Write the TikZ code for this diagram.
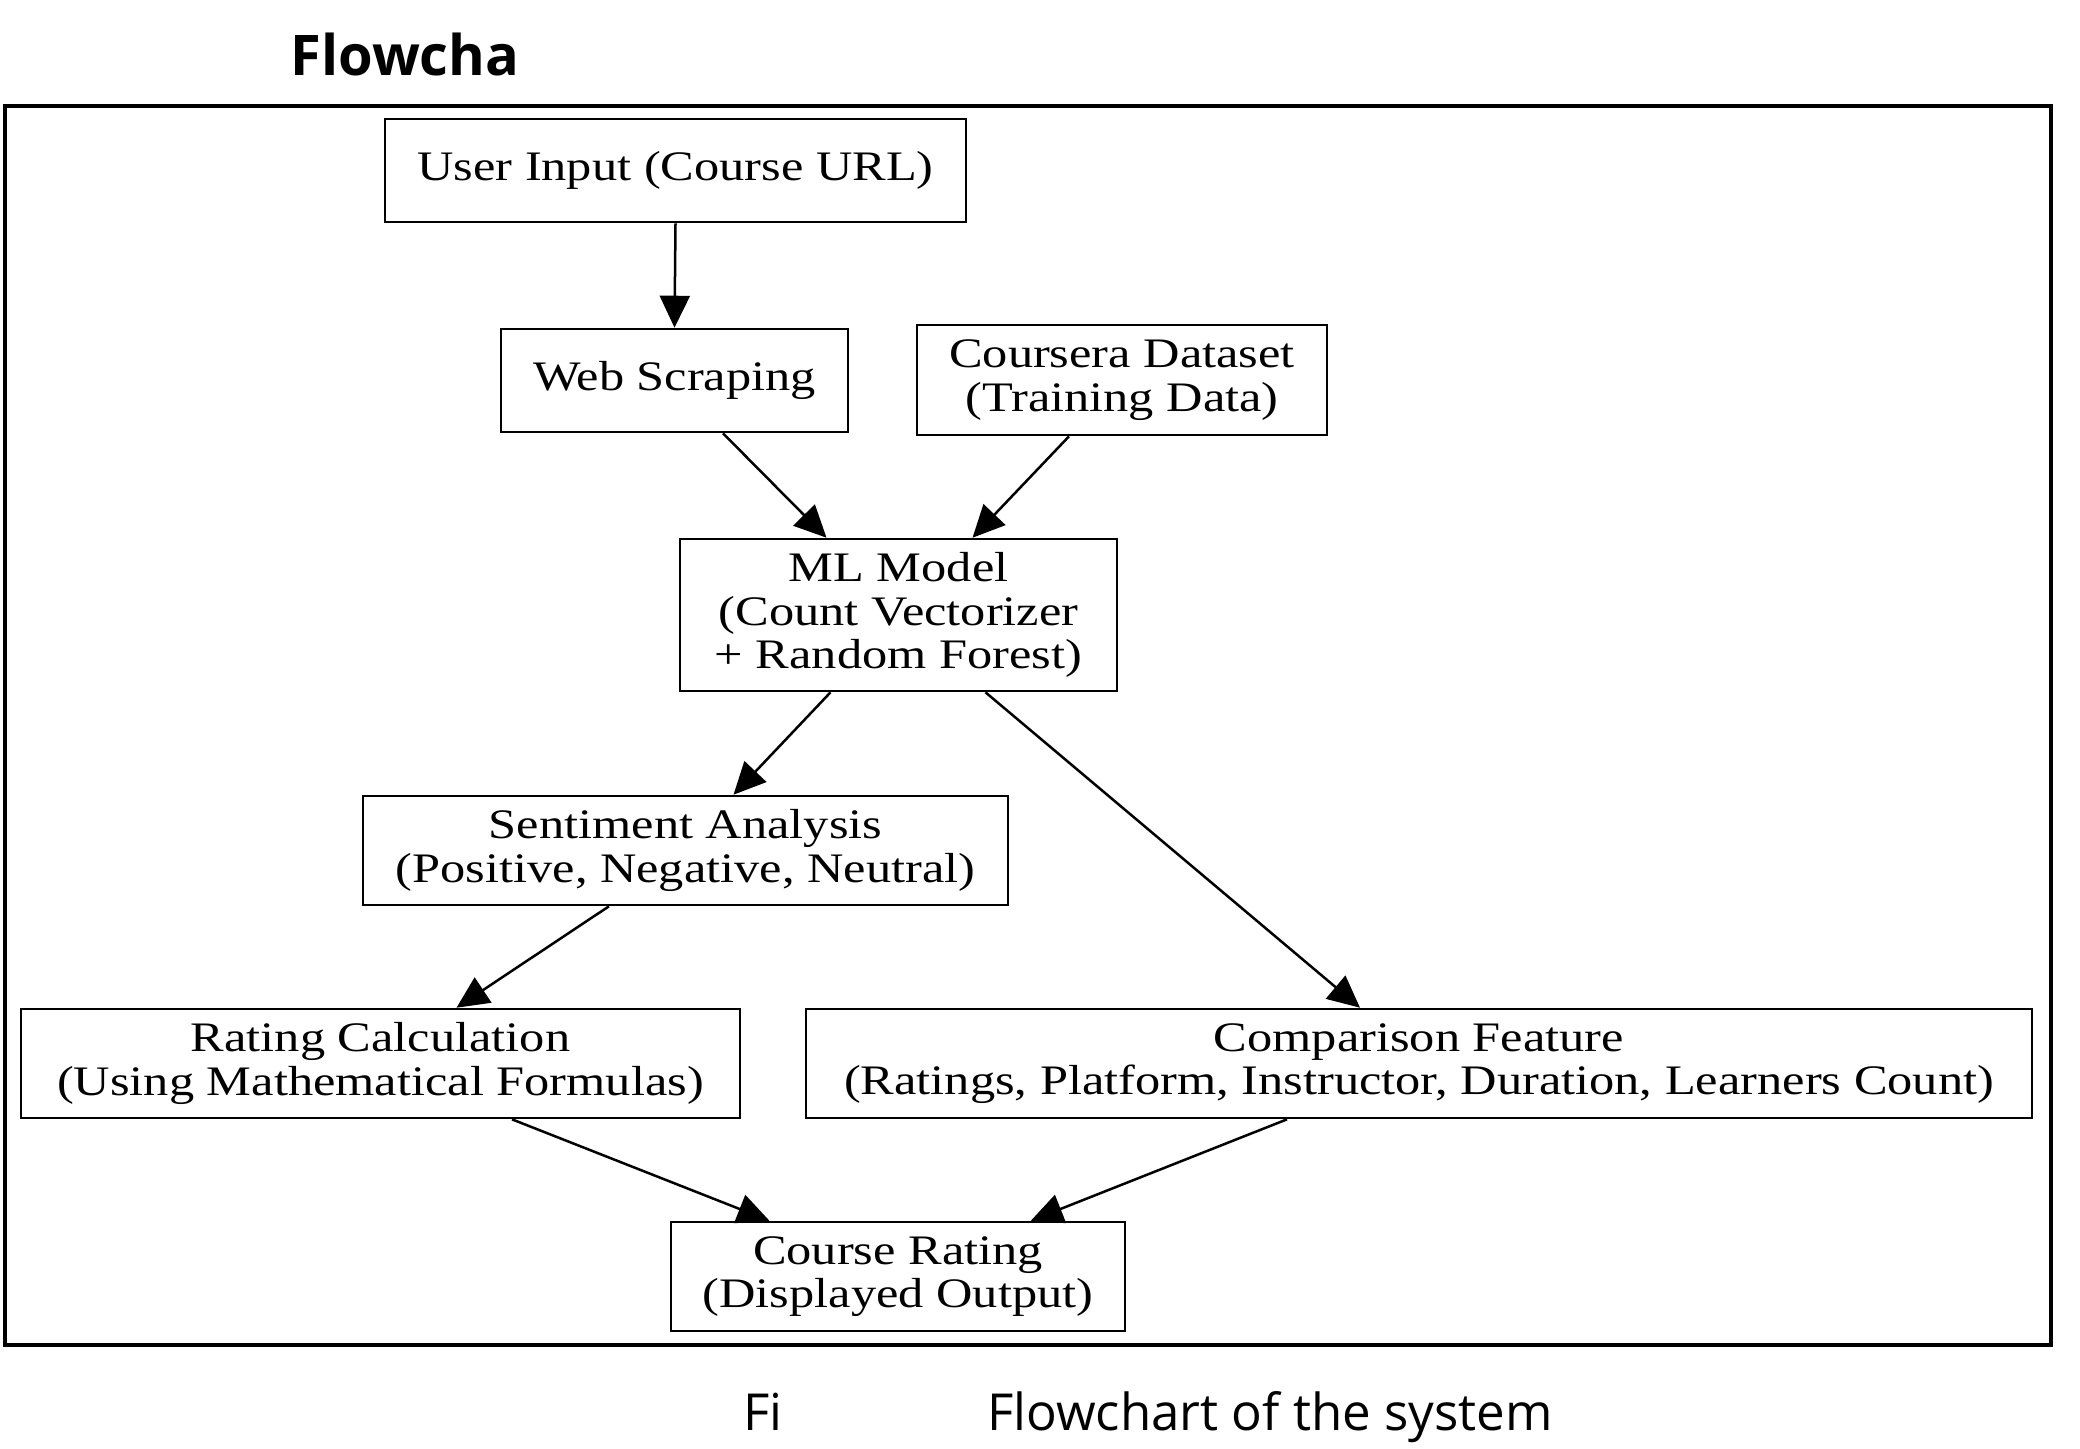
\documentclass[tikz,border=0pt]{standalone}
\usepackage{fontspec}
\setmainfont{Liberation Serif}
\newfontfamily\boxfont[FakeStretch=1.2]{Liberation Serif}
\newfontfamily\capfont{Open Sans}
\usetikzlibrary{arrows.meta}

\begin{document}
\begin{tikzpicture}[
  x=0.5pt,y=-0.5pt,
  >={Triangle[length=16pt,width=15pt]},
  box/.style={draw,line width=1.3pt,inner sep=0pt,align=center,font=\boxfont\fontsize{21}{21.9}\selectfont},
  flow/.style={->,line width=1.25pt},
  frame/.style={draw,line width=1.6pt},
  heading/.style={font=\capfont\bfseries\fontsize{28}{32}\selectfont,inner sep=0pt,anchor=base},
  caption/.style={font=\capfont\fontsize{25.5}{30}\selectfont,inner sep=0pt,anchor=base}
]
\useasboundingbox (0,0) rectangle (2080,1448);
\node[heading] (title) at (405,75) {Flowcha};
\draw[frame] (5,106) rectangle (2051,1345);
% ================= nodes =================
\node[box,minimum width=290.5pt,minimum height=51.5pt] (input) at (675.5,170.5) {User Input (Course URL)};
\node[box,minimum width=173.5pt,minimum height=51.5pt] (web) at (674.5,380.5) {Web Scraping};
\node[box,minimum width=205pt,minimum height=55pt] (data) at (1122,380) {Coursera Dataset\\(Training Data)};
\node[box,minimum width=218.5pt,minimum height=76pt] (ml) at (898.5,615) {ML Model\\(Count Vectorizer\\+ Random Forest)};
\node[box,minimum width=322.5pt,minimum height=54.5pt] (senti) at (685.5,850.5) {Sentiment Analysis\\(Positive, Negative, Neutral)};
\node[box,minimum width=359.5pt,minimum height=54.5pt] (rating) at (380.5,1063.5) {Rating Calculation\\(Using Mathematical Formulas)};
\node[box,minimum width=613pt,minimum height=54.5pt] (compare) at (1419,1063.5) {Comparison Feature\\(Ratings, Platform, Instructor, Duration, Learners Count)};
\node[box,minimum width=227pt,minimum height=54.5pt] (course) at (898,1276.5) {Course Rating\\(Displayed Output)};
% ================= edges =================
\draw[flow] (input.south) -- (web.north);
\draw[flow] ([xshift=24.25pt]web.south) -- ([xshift=-36pt]ml.north);
\draw[flow] ([xshift=-26.5pt]data.south) -- ([xshift=37pt]ml.north);
\draw[flow] ([xshift=-34pt]ml.south) -- ([xshift=24pt]senti.north);
\draw[flow] ([xshift=43.5pt]ml.south) -- ([xshift=-29.5pt]compare.north);
\draw[flow] ([xshift=-38.3pt]senti.south) -- ([xshift=38pt]rating.north);
\draw[flow] ([xshift=65.75pt]rating.south) -- ([xshift=-64.3pt]course.north);
\draw[flow] ([xshift=-66pt]compare.south) -- ([xshift=66.4pt]course.north);
% ================= caption =================
\node[caption] (fig) at (763,1430) {Fi};
\node[caption] (figtext) at (1270,1430) {Flowchart of the system};
\end{tikzpicture}
\end{document}
